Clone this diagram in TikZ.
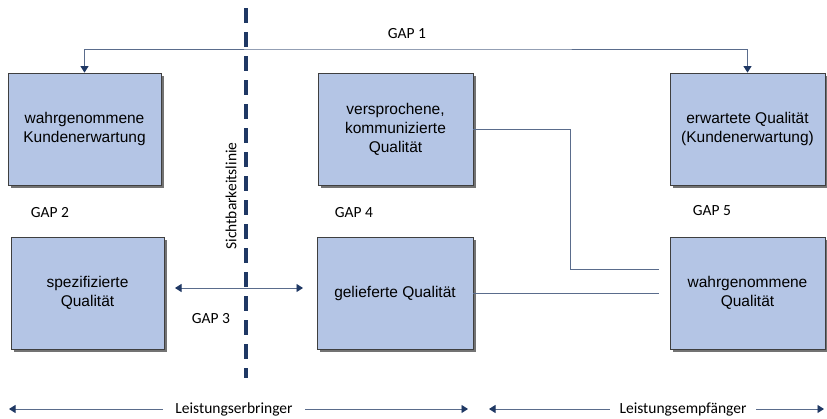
\documentclass[tikz,border=0pt]{standalone}
\usepackage{fontspec}
\setmainfont{Liberation Sans}
\newfontfamily\calfont{Carlito}
\usetikzlibrary{arrows.meta,shadows}
\definecolor{boxfill}{HTML}{B4C5E5}
\definecolor{boxline}{HTML}{3F3F3F}
\definecolor{conncol}{HTML}{5A6C8C}
\definecolor{tipcol}{HTML}{1F3864}
\definecolor{vislinecol}{HTML}{1F3864}
\tikzset{
  qbox/.style={draw=boxline, line width=0.8pt, fill=boxfill, minimum width=155pt, minimum height=112pt,
    align=center, font=\fontsize{15.5}{19}\selectfont, inner sep=2pt,
    drop shadow={shadow xshift=2.5pt, shadow yshift=-2.5pt, opacity=0.55, fill=black}},
  conn/.style={draw=conncol, line width=0.9pt},
  tipend/.style={-{Triangle[length=6.5pt,width=8pt,color=tipcol]}},
  tipboth/.style={{Triangle[length=6.5pt,width=8pt,color=tipcol]}-{Triangle[length=6.5pt,width=8pt,color=tipcol]}},
  gaplbl/.style={font=\calfont\fontsize{15.5}{18}\selectfont, text=black, inner sep=1pt},
  sidelbl/.style={font=\calfont\fontsize{15.5}{18}\selectfont, text=black, fill=white, inner xsep=12pt, inner ysep=1pt},
  visline/.style={draw=vislinecol, line width=4.5pt, dash pattern=on 15pt off 9pt}
}
\begin{document}
\begin{tikzpicture}[x=1pt,y=-1pt]
\useasboundingbox[fill=white] (0,0) rectangle (827,418);
% visibility line
\draw[visline] (246,8) -- (246,378);
\node[gaplbl, rotate=90] (sicht) at (231,196) {Sichtbarkeitslinie};
% boxes
\node[qbox, minimum width=153pt] (A) at (84.5,129) {wahrgenommene\\Kundenerwartung};
\node[qbox] (B) at (395.5,129) {versprochene,\\kommunizierte\\Qualität};
\node[qbox] (C) at (747.5,129) {erwartete Qualität\\(Kundenerwartung)};
\node[qbox, minimum width=153pt] (D) at (87.5,293) {spezifizierte\\Qualität};
\node[qbox, minimum width=156pt] (E) at (395,293) {gelieferte Qualität};
\node[qbox] (F) at (747.5,293) {wahrgenommene\\Qualität};
% GAP 1
\coordinate (g1) at (400,49);
\draw[conn, tipboth] (A.north) |- (g1) -| (C.north);
\node[gaplbl] (gap1) at (407,34) {GAP 1};
% GAP 2, 4, 5 labels
\node[gaplbl] (gap2) at (50,213) {GAP 2};
\node[gaplbl] (gap4) at (354,213) {GAP 4};
\node[gaplbl] (gap5) at (712,211) {GAP 5};
% GAP 3
\coordinate (g3l) at (175,288);
\coordinate (g3r) at (303,288);
\draw[conn, tipboth] (g3l) -- (g3r);
\node[gaplbl] (gap3) at (211,319) {GAP 3};
% lines to perceived quality
\coordinate (bend) at (570,269);
\coordinate (f1) at (659,269);
\coordinate (f2) at (659,293);
\draw[conn] (B.east) -| (bend) -- (f1);
\draw[conn] (E.east) -- (f2);
% bottom arrows
\coordinate (l1) at (9,409);
\coordinate (l2) at (468,409);
\coordinate (r1) at (489,409);
\coordinate (r2) at (824,409);
\draw[conn, tipboth] (l1) -- (l2);
\draw[conn, tipboth] (r1) -- (r2);
\node[sidelbl] (erb) at (234,409) {Leistungserbringer};
\node[sidelbl, inner xsep=10pt] (emp) at (683,409) {Leistungsempfänger};
\end{tikzpicture}
\end{document}
